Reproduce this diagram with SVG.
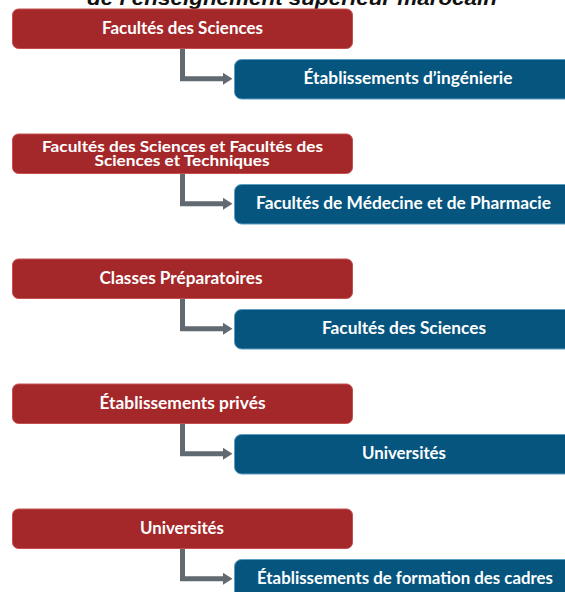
<svg xmlns="http://www.w3.org/2000/svg" width="565" height="592" viewBox="0 0 565 592">
<style>
.red{fill:#A4282A;stroke:#C4504E;stroke-width:1}
.blue{fill:#05557F;stroke:#5C9CC0;stroke-width:1}
.lbl{fill:#FFFFFF;font-family:Lato,"Open Sans","Liberation Sans",sans-serif;font-weight:bold;font-size:16.5px;text-anchor:middle}
.sm{font-size:14.5px}
.conn{fill:none;stroke:#626A71;stroke-width:5;stroke-linejoin:miter}
.title{fill:#111111;font-family:"Liberation Sans",Arial,sans-serif;font-weight:bold;font-style:italic;font-size:20px;text-anchor:middle}
</style>
<defs>
<marker id="ah" markerUnits="userSpaceOnUse" markerWidth="10" markerHeight="12" refX="0" refY="6" orient="auto">
<path d="M0,0 L9.5,6 L0,12 Z" fill="#626A71"/>
</marker>
</defs>
<text class="title" x="292" y="4.5" textLength="410" lengthAdjust="spacingAndGlyphs">de l’enseignement supérieur marocain</text>
<g id="connectors">
<path class="conn" d="M182.5,48.5 V78.8 H223" marker-end="url(#ah)"/>
<path class="conn" d="M182.5,173.5 V203.8 H223" marker-end="url(#ah)"/>
<path class="conn" d="M182.5,298.5 V328.8 H223" marker-end="url(#ah)"/>
<path class="conn" d="M182.5,423.5 V453.8 H223" marker-end="url(#ah)"/>
<path class="conn" d="M182.5,548.5 V578.8 H223" marker-end="url(#ah)"/>
</g>
<g id="n1">
<rect class="red" x="12.5" y="9" width="340" height="39.5" rx="6"/>
<text class="lbl" x="182.5" y="33.5" textLength="161" lengthAdjust="spacingAndGlyphs">Facultés des Sciences</text>
</g>
<g id="n2">
<rect class="blue" x="234.5" y="59.5" width="345" height="39.5" rx="7"/>
<text class="lbl" x="408" y="84" textLength="209" lengthAdjust="spacingAndGlyphs">Établissements d’ingénierie</text>
</g>
<g id="n3">
<rect class="red" x="12.5" y="134" width="340" height="39.5" rx="6"/>
<text class="lbl sm" x="182.5" y="151.5" textLength="281" lengthAdjust="spacingAndGlyphs">Facultés des Sciences et Facultés des</text>
<text class="lbl sm" x="182" y="165.5" textLength="175" lengthAdjust="spacingAndGlyphs">Sciences et Techniques</text>
</g>
<g id="n4">
<rect class="blue" x="234.5" y="184.5" width="345" height="39.5" rx="7"/>
<text class="lbl" x="403.5" y="209.3" textLength="295" lengthAdjust="spacingAndGlyphs">Facultés de Médecine et de Pharmacie</text>
</g>
<g id="n5">
<rect class="red" x="12.5" y="259" width="340" height="39.5" rx="6"/>
<text class="lbl" x="181" y="283.5" textLength="163" lengthAdjust="spacingAndGlyphs">Classes Préparatoires</text>
</g>
<g id="n6">
<rect class="blue" x="234.5" y="309.5" width="345" height="39.5" rx="7"/>
<text class="lbl" x="404" y="334.2" textLength="164" lengthAdjust="spacingAndGlyphs">Facultés des Sciences</text>
</g>
<g id="n7">
<rect class="red" x="12.5" y="384" width="340" height="39.5" rx="6"/>
<text class="lbl" x="182.5" y="408.5" textLength="166" lengthAdjust="spacingAndGlyphs">Établissements privés</text>
</g>
<g id="n8">
<rect class="blue" x="234.5" y="434.5" width="345" height="39.5" rx="7"/>
<text class="lbl" x="404" y="459.2" textLength="84" lengthAdjust="spacingAndGlyphs">Universités</text>
</g>
<g id="n9">
<rect class="red" x="12.5" y="509" width="340" height="39.5" rx="6"/>
<text class="lbl" x="182" y="533.5" textLength="84" lengthAdjust="spacingAndGlyphs">Universités</text>
</g>
<g id="n10">
<rect class="blue" x="234.5" y="559.5" width="345" height="39.5" rx="7"/>
<text class="lbl" x="405" y="584.2" textLength="296" lengthAdjust="spacingAndGlyphs">Établissements de formation des cadres</text>
</g>
</svg>
